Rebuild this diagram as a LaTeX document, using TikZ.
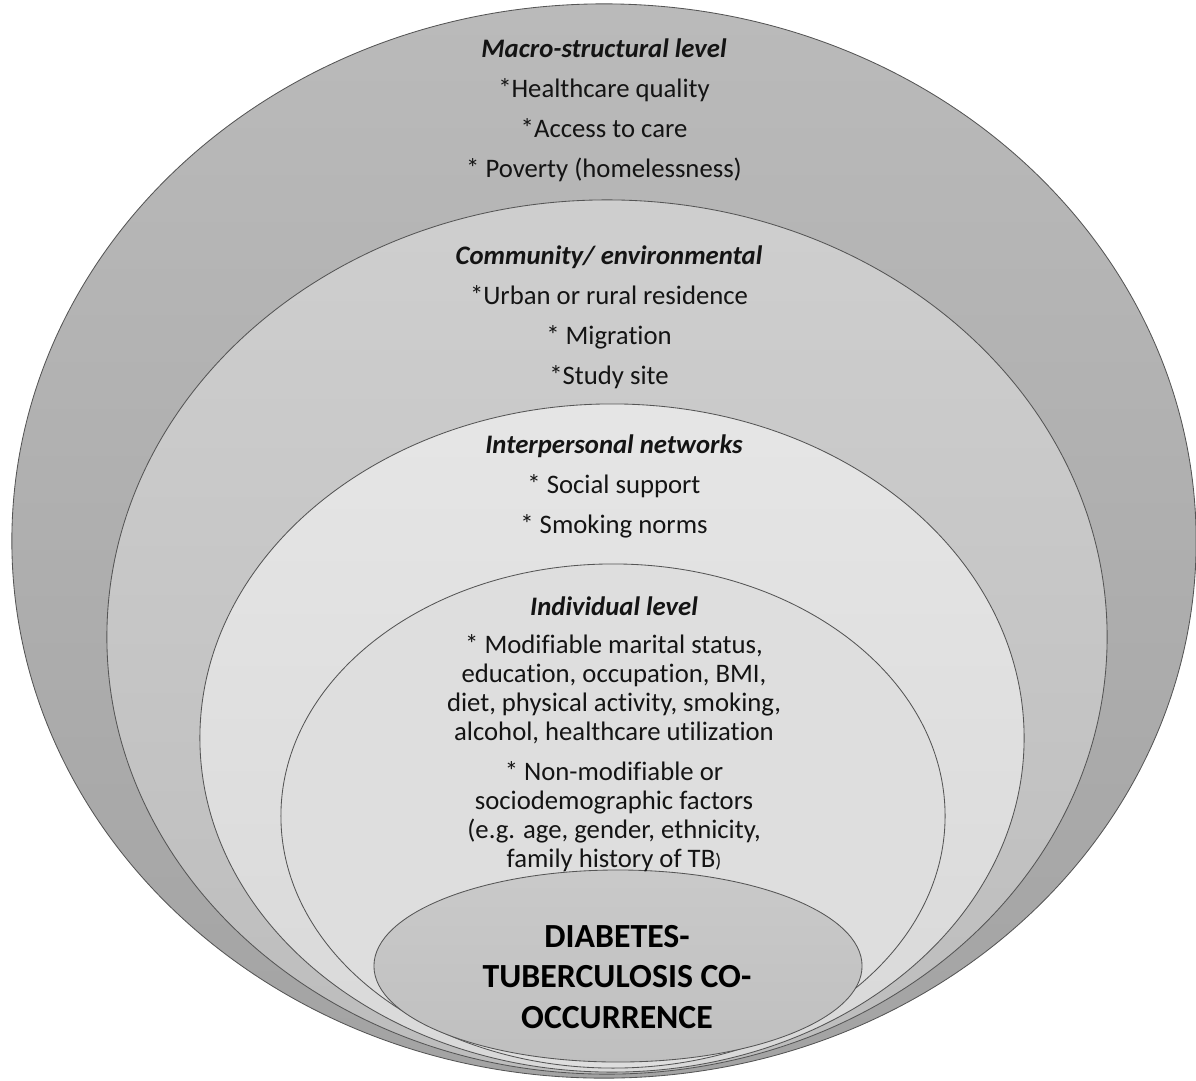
\documentclass[tikz,border=0pt]{standalone}
\usepackage{fontspec}
\setmainfont{Carlito}[Ligatures=NoCommon]
\usepackage{tikz}
\usetikzlibrary{shapes.geometric}
\definecolor{ringline}{RGB}{85,85,85}
\definecolor{inktext}{RGB}{20,20,20}

\begin{document}
\begin{tikzpicture}[x=0.025cm,y=-0.025cm,
   ring/.style={ellipse,draw=ringline,line width=0.6pt,inner sep=0pt},
   lvl/.style={align=center,text=inktext,font=\fontsize{19}{28.45}\selectfont},
   para/.style={align=center,text=inktext,font=\fontsize{19}{20.6}\selectfont},
   core/.style={align=center,text=black,font=\fontsize{24}{29}\selectfont\bfseries}]
  \useasboundingbox (0,0) rectangle (1196,1080);
  \node[ring,minimum width=29.6cm,minimum height=26.85cm,top color=black!27,bottom color=black!36] (macro) at (604,541) {};
  \node[ring,minimum width=25cm,minimum height=21.85cm,top color=black!19,bottom color=black!26] (comm) at (607,637) {};
  \node[ring,minimum width=20.6cm,minimum height=16.7cm,top color=black!10,bottom color=black!15] (inter) at (612,738) {};
  \node[ring,minimum width=16.6cm,minimum height=12.6cm,fill=black!13] (indiv) at (613,816) {};
  \node[ring,minimum width=12.2cm,minimum height=4.8cm,top color=black!21,bottom color=black!25] (dtb) at (618,966) {};
  \node[lvl] (macrotxt) at (604,110) {\textbf{\textit{Macro-structural level}}\\ *Healthcare quality\\ *Access to care\\ * Poverty (homelessness)};
  \node[lvl] (commtxt) at (609,317) {\textbf{\textit{Community/ environmental}}\\ *Urban or rural residence\\ * Migration\\ *Study site};
  \node[lvl] (intertxt) at (614,486) {\textbf{\textit{Interpersonal networks}}\\ * Social support\\ * Smoking norms};
  \node[lvl] (indivtxt) at (614,606) {\textbf{\textit{Individual level}}};
  \node[para] (modtxt) at (614,689) {* Modifiable marital status,\\ education, occupation, BMI,\\ diet, physical activity, smoking,\\ alcohol, healthcare utilization};
  \node[para] (nonmodtxt) at (614,817) {* Non-modifiable or\\ sociodemographic factors\\ (e.g. age, gender, ethnicity,\\ family history of TB{\fontsize{14}{14}\selectfont )}};
  \node[core] (dtbtxt) at (617,977) {DIABETES-\\ TUBERCULOSIS CO-\\ OCCURRENCE};
\end{tikzpicture}
\end{document}
